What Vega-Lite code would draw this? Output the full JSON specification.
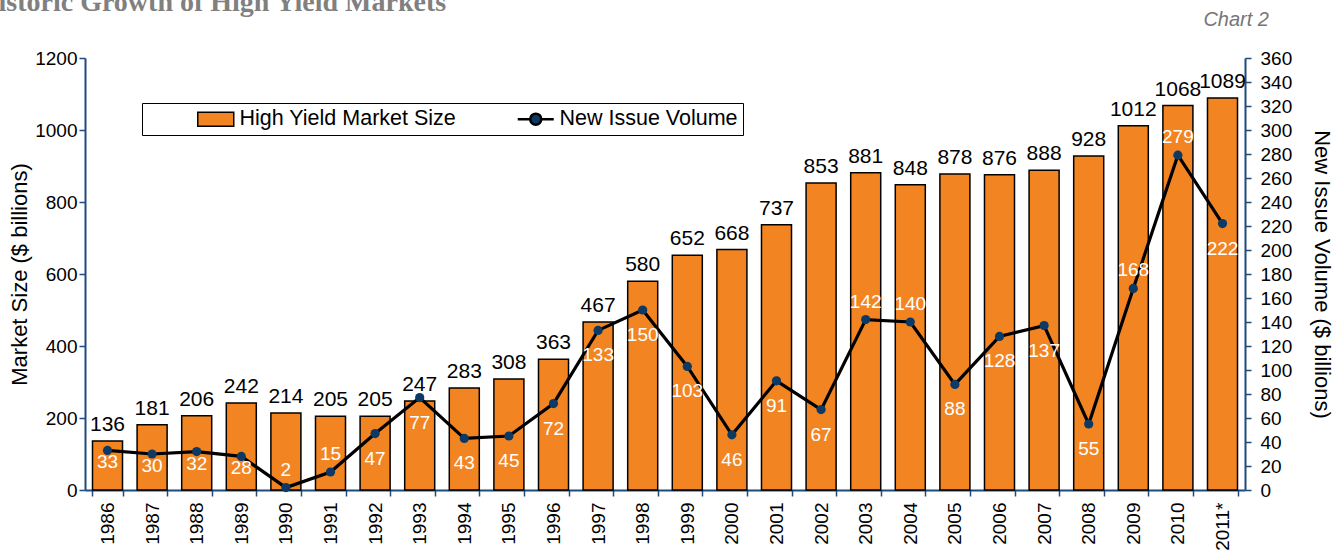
{
  "$schema": "https://vega.github.io/schema/vega-lite/v6.json",
  "padding": {"left": -24, "top": -11, "right": 5, "bottom": 5},
  "title": {
    "text": "Historic Growth of High Yield Markets",
    "anchor": "start",
    "frame": "bounds",
    "dx": -32,
    "dy": 0,
    "offset": -7,
    "font": "Liberation Serif",
    "fontSize": 28,
    "fontWeight": "bold",
    "color": "#808080"
  },
  "config": {
    "font": "Liberation Sans",
    "view": {"stroke": null}
  },
  "vconcat": [
    {
      "width": 1160,
      "height": 432,
      "title": {
        "text": "Chart 2",
        "anchor": "end",
        "frame": "group",
        "dx": 24,
        "offset": 19,
        "font": "Liberation Sans",
        "fontStyle": "italic",
        "fontWeight": "normal",
        "fontSize": 20,
        "color": "#767676"
      },
      "data": {
        "values": [
          {"year": "1986", "size": 136, "volume": 33},
          {"year": "1987", "size": 181, "volume": 30},
          {"year": "1988", "size": 206, "volume": 32},
          {"year": "1989", "size": 242, "volume": 28},
          {"year": "1990", "size": 214, "volume": 2},
          {"year": "1991", "size": 205, "volume": 15},
          {"year": "1992", "size": 205, "volume": 47},
          {"year": "1993", "size": 247, "volume": 77},
          {"year": "1994", "size": 283, "volume": 43},
          {"year": "1995", "size": 308, "volume": 45},
          {"year": "1996", "size": 363, "volume": 72},
          {"year": "1997", "size": 467, "volume": 133},
          {"year": "1998", "size": 580, "volume": 150},
          {"year": "1999", "size": 652, "volume": 103},
          {"year": "2000", "size": 668, "volume": 46},
          {"year": "2001", "size": 737, "volume": 91},
          {"year": "2002", "size": 853, "volume": 67},
          {"year": "2003", "size": 881, "volume": 142},
          {"year": "2004", "size": 848, "volume": 140},
          {"year": "2005", "size": 878, "volume": 88},
          {"year": "2006", "size": 876, "volume": 128},
          {"year": "2007", "size": 888, "volume": 137},
          {"year": "2008", "size": 928, "volume": 55},
          {"year": "2009", "size": 1012, "volume": 168},
          {"year": "2010", "size": 1068, "volume": 279},
          {"year": "2011*", "size": 1089, "volume": 222}
        ]
      },
      "encoding": {
        "x": {
          "field": "year",
          "type": "ordinal",
          "sort": null,
          "scale": {"paddingInner": 0.327, "paddingOuter": 0.168},
          "axis": {
            "title": null,
            "labelAngle": -90,
            "labelFontSize": 19,
            "labelColor": "black",
            "labelPadding": 6,
            "tickBand": "extent",
            "tickColor": "#1f4a7c",
            "tickWidth": 1.5,
            "tickSize": 6,
            "domainColor": "#1f4a7c",
            "domainWidth": 2
          }
        }
      },
      "layer": [
        {
          "encoding": {
            "y": {
              "field": "size",
              "type": "quantitative",
              "scale": {"domain": [0, 1200], "nice": false},
              "axis": {
                "orient": "left",
                "title": "Market Size ($ billions)",
                "values": [0, 200, 400, 600, 800, 1000, 1200],
                "format": "d",
                "grid": false,
                "labelFontSize": 19,
                "labelColor": "black",
                "labelPadding": 2,
                "tickColor": "#1f4a7c",
                "tickWidth": 1.5,
                "tickSize": 6,
                "domainColor": "#1f4a7c",
                "domainWidth": 2,
                "titleFontSize": 22,
                "titleFontWeight": "normal",
                "titleColor": "black",
                "titlePadding": 3
              }
            }
          },
          "layer": [
            {
              "mark": {"type": "bar", "stroke": "black", "strokeWidth": 1.5},
              "encoding": {
                "color": {
                  "datum": "High Yield Market Size",
                  "type": "nominal",
                  "scale": {
                    "domain": ["High Yield Market Size", "New Issue Volume"],
                    "range": ["#F28522", "#0c3a65"]
                  },
                  "legend": {
                    "orient": "none",
                    "legendX": 57,
                    "legendY": 45,
                    "direction": "horizontal",
                    "title": "\u00a0",
                    "titleOrient": "left",
                    "titlePadding": 58,
                    "titleFontSize": 18,
                    "strokeColor": "black",
                    "fillColor": "white",
                    "padding": 5,
                    "labelFontSize": 21.5,
                    "labelColor": "black",
                    "labelLimit": 400,
                    "labelOffset": 13,
                    "symbolSize": 400,
                    "columnPadding": 55,
                    "symbolType": {"expr": "datum.value === 'High Yield Market Size' ? 'M-1.8,-0.7H1.8V0.7H-1.8Z' : 'M-1.8,0H-0.55M0.55,0H1.8M-0.55,0A0.55,0.55 0 1,0 0.55,0A0.55,0.55 0 1,0 -0.55,0Z'"},
                    "symbolStrokeColor": "black",
                    "symbolStrokeWidth": {"expr": "datum.value === 'High Yield Market Size' ? 1.5 : 2.5"},
                    "symbolOpacity": 1
                  }
                }
              }
            },
            {
              "mark": {"type": "text", "baseline": "alphabetic", "dy": -10, "fontSize": 21, "color": "black"},
              "encoding": {"text": {"field": "size", "type": "quantitative"}}
            }
          ]
        },
        {
          "encoding": {
            "y": {
              "field": "volume",
              "type": "quantitative",
              "scale": {"domain": [0, 360], "nice": false},
              "axis": {
                "orient": "right",
                "title": "New Issue Volume ($ billions)",
                "values": [0, 20, 40, 60, 80, 100, 120, 140, 160, 180, 200, 220, 240, 260, 280, 300, 320, 340, 360],
                "labelOverlap": false,
                "grid": false,
                "labelFontSize": 19,
                "labelColor": "black",
                "labelPadding": 9,
                "tickColor": "#1f4a7c",
                "tickWidth": 1.5,
                "tickSize": 6,
                "domainColor": "#1f4a7c",
                "domainWidth": 2,
                "titleFontSize": 22,
                "titleFontWeight": "normal",
                "titleColor": "black",
                "titlePadding": 18
              }
            }
          },
          "layer": [
            {
              "mark": {"type": "line", "color": "black", "strokeWidth": 3.2},
              "encoding": {}
            },
            {
              "mark": {"type": "point", "filled": true, "size": 85, "opacity": 1},
              "encoding": {"color": {"datum": "New Issue Volume", "type": "nominal"}}
            },
            {
              "transform": [{"filter": {"field": "year", "oneOf": ["1990", "1991", "2003", "2004", "2009", "2010"]}}],
              "mark": {"type": "text", "baseline": "middle", "dy": -18, "fontSize": 19, "color": "white"},
              "encoding": {"text": {"field": "volume", "type": "quantitative"}}
            },
            {
              "transform": [{"filter": {"field": "year", "oneOf": ["1986", "1987", "1988", "1989"]}}],
              "mark": {"type": "text", "baseline": "middle", "dy": 12, "fontSize": 19, "color": "white"},
              "encoding": {"text": {"field": "volume", "type": "quantitative"}}
            },
            {
              "transform": [{"filter": {"not": {"field": "year", "oneOf": ["1990", "1991", "2003", "2004", "2009", "2010", "1986", "1987", "1988", "1989"]}}}],
              "mark": {"type": "text", "baseline": "middle", "dy": 25, "fontSize": 19, "color": "white"},
              "encoding": {"text": {"field": "volume", "type": "quantitative"}}
            }
          ]
        }
      ],
      "resolve": {"scale": {"y": "independent"}}
    }
  ]
}
